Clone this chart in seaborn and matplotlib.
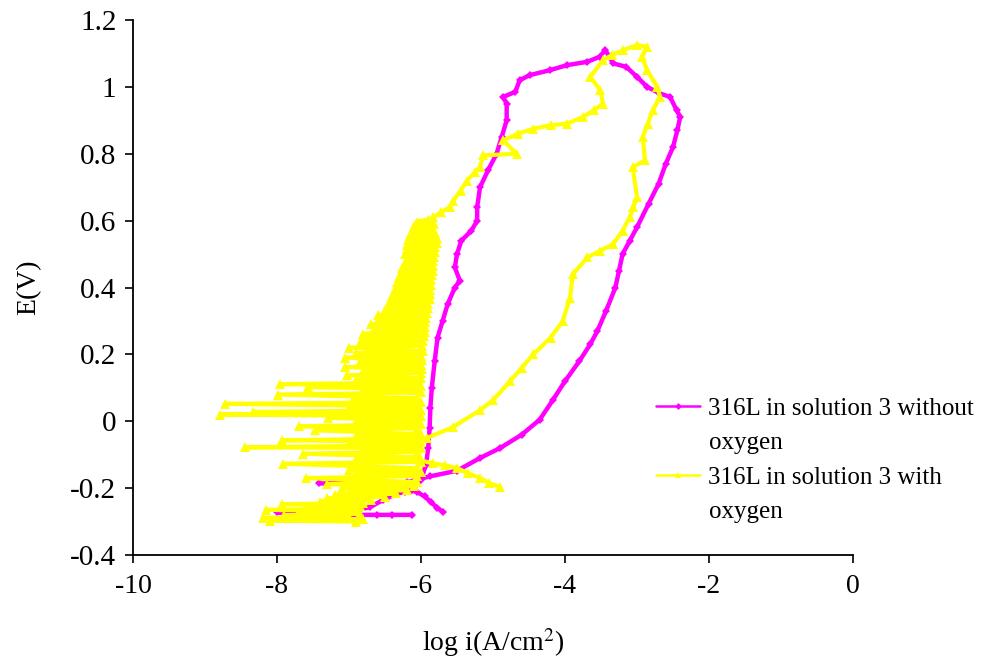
import matplotlib
matplotlib.use("Agg")
import matplotlib.pyplot as plt
from matplotlib.lines import Line2D
import numpy as np
import pandas as pd
import seaborn as sns

# ---- data: log i (A/cm2) and E (V) ----
# 316L, solution 3, deaerated: cathodic part near the start of the scan
m1_logi = [-5.69, -5.78, -5.86, -5.95, -6.05, -6.12, -6.22, -6.33, -6.53, -6.71,
           -6.89, -7.03, -7.15, -7.29, -7.38, -8.00, -7.20, -6.94, -6.61, -6.40, -6.13]
m1_E = [-0.272, -0.258, -0.242, -0.225, -0.212, -0.207, -0.212, -0.216, -0.236, -0.257,
        -0.266, -0.270, -0.272, -0.270, -0.272, -0.272, -0.278, -0.280, -0.280, -0.280, -0.280]

# 316L, solution 3, deaerated: forward anodic sweep and reverse sweep
m2_logi = [-6.12, -6.00, -5.93, -5.90, -5.88, -5.87, -5.85, -5.81, -5.77, -5.70,
           -5.63, -5.53, -5.46, -5.53, -5.50, -5.44, -5.30, -5.22, -5.22, -5.18,
           -5.07, -4.95, -4.88, -4.81, -4.81, -4.86, -4.69, -4.63, -4.49, -4.21,
           -3.97, -3.69, -3.52, -3.44,
           -3.33, -3.15, -3.00, -2.86, -2.68, -2.54, -2.45, -2.40, -2.44, -2.50,
           -2.60, -2.70, -2.84, -3.00, -3.10, -3.20, -3.25, -3.30, -3.43, -3.55,
           -3.65, -3.80, -4.00, -4.17, -4.35, -4.60, -4.90, -5.18, -5.50, -5.88,
           -6.20, -6.47, -6.90, -7.41]
m2_E = [-0.205, -0.175, -0.130, -0.080, -0.020, 0.040, 0.100, 0.180, 0.250, 0.300,
        0.350, 0.400, 0.420, 0.460, 0.500, 0.540, 0.570, 0.600, 0.640, 0.700,
        0.750, 0.800, 0.850, 0.900, 0.950, 0.970, 0.985, 1.020, 1.035, 1.050,
        1.065, 1.075, 1.090, 1.110,
        1.070, 1.060, 1.030, 1.000, 0.980, 0.970, 0.930, 0.910, 0.870, 0.820,
        0.770, 0.710, 0.650, 0.580, 0.540, 0.500, 0.450, 0.400, 0.330, 0.270,
        0.230, 0.180, 0.120, 0.063, 0.005, -0.040, -0.080, -0.110, -0.148, -0.165,
        -0.183, -0.186, -0.186, -0.186]

# 316L, solution 3, aerated: cathodic branch at the start of the scan
y1_logi = [-4.90, -5.05, -5.18, -5.35, -5.50, -5.67, -5.83, -6.01]
y1_E = [-0.197, -0.185, -0.170, -0.155, -0.140, -0.132, -0.126, -0.117]

# 316L, solution 3, aerated: noisy passive region, then anodic and reverse sweeps
y2_logi = [-6.90, -8.10, -6.80, -8.20, -7.00, -7.90, -6.85, -7.70, -6.90, -8.15,
           -6.95, -7.60, -6.85, -7.93, -6.80, -7.40, -6.70, -7.30, -6.50, -7.20,
           -6.35, -7.00, -6.20, -7.10, -6.10, -7.30, -6.05, -7.60, -6.05, -6.90,
           -6.00, -7.00, -6.05, -7.92, -6.00, -6.90, -6.02, -7.64, -6.05, -6.80,
           -6.00, -8.44, -6.05, -7.00, -6.00, -7.93, -6.05, -6.90, -6.00, -7.47,
           -6.05, -7.70, -6.00, -6.90, -6.05, -7.29, -6.00, -8.79, -6.05, -8.33,
           -6.00, -7.00, -6.05, -8.72, -6.00, -6.95, -6.05, -7.99, -6.00, -6.80,
           -6.05, -7.57, -6.00, -7.96, -6.05, -6.90, -6.00, -7.03, -6.00, -6.80,
           -5.98, -7.06, -6.00, -6.85, -5.98, -7.06, -6.00, -6.90, -5.97, -7.00,
           -5.98, -6.85, -5.97, -6.80, -5.96, -6.80, -5.95, -6.65, -5.95, -6.70,
           -5.94, -6.60, -5.93, -6.60, -5.92, -6.50, -5.90, -6.45, -5.90, -6.43,
           -5.88, -6.40, -5.88, -6.36, -5.87, -6.35, -5.86, -6.33, -5.86, -6.30,
           -5.85, -6.28, -5.84, -6.26, -5.84, -6.22, -5.83, -6.20, -5.82, -6.22,
           -5.80, -6.20, -5.80, -6.20, -5.78, -6.18, -5.78, -6.15, -5.80, -6.12,
           -5.85, -6.10, -5.82, -6.06, -5.90,
           -5.83, -5.72, -5.60, -5.55, -5.45, -5.36, -5.25, -5.18, -5.14, -4.67,
           -4.86, -4.65, -4.44, -4.20, -3.97, -3.75, -3.60, -3.47, -3.51, -3.65,
           -3.47, -3.35, -3.19, -3.00, -2.86,
           -2.93, -2.86, -2.72, -2.68, -2.78, -2.85, -2.92, -2.89, -3.06, -3.00,
           -3.05, -3.10, -3.20, -3.33, -3.51, -3.69, -3.89, -3.93, -4.03, -4.20,
           -4.44, -4.60, -4.76, -5.00, -5.18, -5.56, -5.92, -6.10]
y2_E = [-0.300, -0.297, -0.293, -0.289, -0.285, -0.281, -0.277, -0.273, -0.269, -0.265,
        -0.261, -0.257, -0.253, -0.248, -0.244, -0.240, -0.236, -0.231, -0.226, -0.221,
        -0.216, -0.211, -0.206, -0.200, -0.194, -0.188, -0.182, -0.170, -0.164, -0.158,
        -0.152, -0.146, -0.140, -0.127, -0.121, -0.114, -0.108, -0.097, -0.091, -0.085,
        -0.080, -0.078, -0.072, -0.066, -0.061, -0.057, -0.051, -0.045, -0.039, -0.027,
        -0.021, -0.015, -0.009, -0.003, 0.003, 0.010, 0.015, 0.020, 0.024, 0.028,
        0.033, 0.039, 0.045, 0.052, 0.057, 0.063, 0.069, 0.080, 0.086, 0.092,
        0.097, 0.102, 0.106, 0.111, 0.116, 0.122, 0.128, 0.138, 0.144, 0.150,
        0.156, 0.162, 0.168, 0.176, 0.182, 0.190, 0.196, 0.204, 0.210, 0.220,
        0.226, 0.234, 0.240, 0.248, 0.254, 0.262, 0.268, 0.276, 0.282, 0.290,
        0.296, 0.304, 0.310, 0.318, 0.324, 0.332, 0.338, 0.346, 0.352, 0.360,
        0.366, 0.374, 0.380, 0.388, 0.394, 0.402, 0.408, 0.416, 0.422, 0.430,
        0.436, 0.444, 0.450, 0.458, 0.464, 0.472, 0.478, 0.486, 0.492, 0.500,
        0.506, 0.514, 0.520, 0.528, 0.534, 0.542, 0.548, 0.556, 0.562, 0.570,
        0.576, 0.584, 0.590, 0.597, 0.603,
        0.610, 0.625, 0.640, 0.660, 0.690, 0.720, 0.745, 0.760, 0.795, 0.800,
        0.840, 0.860, 0.875, 0.885, 0.890, 0.910, 0.930, 0.950, 0.990, 1.030,
        1.080, 1.095, 1.110, 1.125, 1.120,
        1.090, 1.050, 1.000, 0.970, 0.930, 0.890, 0.850, 0.780, 0.760, 0.670,
        0.640, 0.610, 0.570, 0.530, 0.510, 0.490, 0.440, 0.370, 0.300, 0.250,
        0.200, 0.160, 0.120, 0.063, 0.033, -0.018, -0.050, -0.063]

label_m_lines = ["316L in solution 3 without", "oxygen"]
label_y_lines = ["316L in solution 3 with", "oxygen"]

x_ticks = [-10, -8, -6, -4, -2, 0]
y_ticks = [-0.4, -0.2, 0, 0.2, 0.4, 0.6, 0.8, 1, 1.2]
x_ticklabels = ["-10", "-8", "-6", "-4", "-2", "0"]
y_ticklabels = ["-0.4", "-0.2", "0", "0.2", "0.4", "0.6", "0.8", "1", "1.2"]

color_m = "#FF00FF"
color_y = "#FFFF00"


def segment_frame(parts):
    frames = []
    for lx, ly, seg in parts:
        frames.append(pd.DataFrame({"logi": lx, "E": ly, "seg": [seg] * len(lx)}))
    return pd.concat(frames, ignore_index=True)


df_m = segment_frame([(m1_logi, m1_E, "m1"), (m2_logi, m2_E, "m2")])
df_y = segment_frame([(y1_logi, y1_E, "y1"), (y2_logi, y2_E, "y2")])

# ---- style ----
sns.set_style("white")
plt.rcParams["font.family"] = ["Liberation Serif", "DejaVu Serif"]
plt.rcParams["mathtext.fontset"] = "stix"
plt.rcParams["axes.unicode_minus"] = False
plt.rcParams["text.color"] = "black"
plt.rcParams["axes.labelcolor"] = "black"

fig = plt.figure(figsize=(9.86, 6.66), dpi=100)
ax = fig.add_axes([133 / 986, 1 - 555 / 666, 720 / 986, 535 / 666])

sns.lineplot(data=df_m, x="logi", y="E", units="seg", estimator=None, sort=False,
             color=color_m, marker="D", markersize=4.5, markeredgewidth=0,
             linewidth=3.2, legend=False, ax=ax)
sns.lineplot(data=df_y, x="logi", y="E", units="seg", estimator=None, sort=False,
             color=color_y, marker="^", markersize=7, markeredgewidth=0,
             linewidth=3.0, legend=False, ax=ax)

ax.set_xlim(-10, 0)
ax.set_ylim(-0.4, 1.2)
ax.set_xticks(x_ticks)
ax.set_xticklabels(x_ticklabels)
ax.set_yticks(y_ticks)
ax.set_yticklabels(y_ticklabels)
ax.tick_params(axis="both", which="major", direction="out", length=6, width=1.2,
               colors="black", bottom=True, left=True, top=False, right=False)
ax.tick_params(axis="y", labelsize=21, pad=6)
ax.tick_params(axis="x", labelsize=20, pad=8)
for side in ("top", "right"):
    ax.spines[side].set_visible(False)
for side in ("left", "bottom"):
    ax.spines[side].set_color("black")
    ax.spines[side].set_linewidth(1.3)

ax.set_xlabel(r"log i(A/cm$^2$)", fontsize=20, labelpad=19, color="black")
ax.set_ylabel("E(V)", fontsize=20, labelpad=21, color="black")

# legend: sample line beside the first line of each wrapped label
blank = Line2D([], [], alpha=0)
h_m = Line2D([], [], color=color_m, marker="D", markersize=3.5, markeredgewidth=0, linewidth=1.8)
h_y = Line2D([], [], color=color_y, marker="^", markersize=4.5, markeredgewidth=0, linewidth=1.8)
leg = ax.legend([h_m, blank, h_y, blank],
                [label_m_lines[0], label_m_lines[1], label_y_lines[0], label_y_lines[1]],
                loc="upper left", frameon=False,
                bbox_to_anchor=(656 / 986, 1 - 397 / 666), bbox_transform=fig.transFigure,
                fontsize=18, handlelength=1.75, handletextpad=0.35, labelspacing=0.48,
                borderaxespad=0, borderpad=0, labelcolor="black")

fig.savefig("out.png", dpi=100)
